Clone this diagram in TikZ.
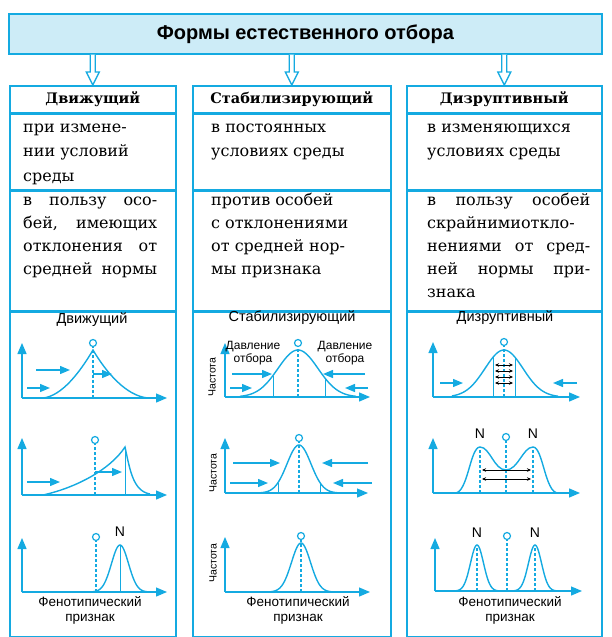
\documentclass[tikz,border=0pt]{standalone}
\usepackage{fontspec}
\setmainfont{DejaVu Serif}
\setsansfont{Liberation Sans}
\usetikzlibrary{arrows.meta,positioning}
\definecolor{bio}{RGB}{20,170,225}
\definecolor{biofill}{RGB}{205,236,247}
\newcommand{\spread}[2]{\makebox[#1][s]{#2}}

\begin{document}
\begin{tikzpicture}[
        x=1pt, y=-1pt,
        box/.style={draw=bio, line width=1.6pt, anchor=north west, inner sep=0pt},
        hdr/.style={box, minimum height=27pt, font=\fontsize{14.5}{17}\selectfont\bfseries},
        txt/.style={anchor=base west, align=left, inner sep=0pt},
        hollow/.style={draw=bio, line width=1.3pt, fill=white, line join=miter},
        ax/.style={draw=bio, line width=1.3pt, -{Triangle[length=11pt,width=9pt]}},
        push/.style={draw=bio, line width=1.3pt, -{Triangle[length=10pt,width=8pt]}},
        bell/.style={draw=bio, line width=1.4pt},
        cut/.style={draw=bio, line width=1pt},
        meanline/.style={draw=bio, line width=1.2pt, dash pattern=on 3pt off 2pt},
        mean/.style={circle, draw=bio, line width=1.2pt, minimum size=7pt, inner sep=0pt},
        gtitle/.style={font=\sffamily\fontsize{14.5}{17}\selectfont, inner sep=0pt},
        lbl/.style={font=\sffamily\fontsize{12}{13.5}\selectfont, align=center, inner sep=0pt},
        freq/.style={font=\sffamily\fontsize{10.5}{12}\selectfont, rotate=90, inner sep=0pt},
        nlbl/.style={font=\sffamily\fontsize{14}{16}\selectfont, inner sep=0pt},
        pheno/.style={font=\sffamily\fontsize{13.5}{15}\selectfont, align=center, inner sep=0pt, anchor=north},
        away/.style={black, line width=0.6pt, {Stealth[length=4pt,width=3.5pt]}-{Stealth[length=4pt,width=3.5pt]}}
    ]
        \useasboundingbox (0,0) rectangle (611,637);

        % Title and columns
        \node[box, fill=biofill, minimum width=593pt, minimum height=40pt,
              font=\sffamily\bfseries\fontsize{20}{23}\selectfont] (title) at (8,13) {Формы естественного отбора};
        \node[hdr, minimum width=166pt] (hdr1) at (9,85) {Движущий};
        \node[hdr, minimum width=198pt] (hdr2) at (192,85) {Стабилизирующий};
        \node[hdr, minimum width=195pt] (hdr3) at (406,85) {Дизруптивный};
        \foreach \c/\w in {1/166, 2/198, 3/195} {
            \coordinate (top\c) at (title.south -| hdr\c.north);
            \draw[hollow] ([xshift=-2.5pt]top\c) -- ([xshift=-2.5pt,yshift=13pt]hdr\c.north)
                -- ([xshift=-6.5pt,yshift=13pt]hdr\c.north) -- (hdr\c.north)
                -- ([xshift=6.5pt,yshift=13pt]hdr\c.north) -- ([xshift=2.5pt,yshift=13pt]hdr\c.north)
                -- ([xshift=2.5pt]top\c);
            \node[box, minimum width=\w pt, minimum height=75pt] (cond\c) at (hdr\c.south west) {};
            \node[box, minimum width=\w pt, minimum height=120pt] (fav\c) at (cond\c.south west) {};
            \node[box, minimum width=\w pt, minimum height=324pt] (pan\c) at (fav\c.south west) {};
        }

        % Texts (placed at the baseline of their last line)
        \begin{scope}[font=\fontsize{16}{24.5}\selectfont]
            \node[txt] (cond1t) at (23,181) {при измене-\\нии условий\\среды};
            \node[txt] (cond2t) at (211,156.5) {в постоянных\\условиях среды};
            \node[txt] (cond3t) at (427,156.5) {в изменяющихся\\условиях среды};
        \end{scope}
        \begin{scope}[font=\fontsize{16}{23}\selectfont]
            \node[txt] (fav1t) at (23,274) {\spread{134pt}{в пользу осо-}\\\spread{134pt}{бей, имеющих}\\
                \spread{134pt}{отклонения от}\\\spread{134pt}{средней нормы}};
            \node[txt] (fav2t) at (211,274) {против особей\\с отклонениями\\от средней нор-\\мы признака};
            \node[txt] (fav3t) at (427,297) {\spread{163pt}{в пользу особей}\\скрайнимиоткло-\\
                \spread{163pt}{нениями от сред-}\\\spread{163pt}{ней нормы при-}\\знака};
        \end{scope}

        % Graph titles
        \node[gtitle] (g1) at (92,320) {Движущий};
        \node[gtitle] (g2) at (292,318) {Стабилизирующий};
        \node[gtitle] (g3) at (505,318) {Дизруптивный};

        % Moving selection
        \draw[ax] (22,398) -- (22,343);
        \draw[ax] (22,398) -- (167,398);
        \draw[bell] (43,398) .. controls (62,396) and (80,372) .. (93,350) .. controls (106,372) and (126,396) .. (148,398);
        \node[mean] (m11) at (93,343) {};
        \draw[meanline] (93,398) -- (m11.south);
        \draw[push] (36,370) -- (70,370);
        \draw[push] (27,388) -- (50,388);
        \draw[push] (93,374) -- (112,374);

        \draw[ax] (22,495) -- (22,438);
        \draw[ax] (22,495) -- (167,495);
        \draw[bell] (43,495) .. controls (75,488) and (110,470) .. (125,447) .. controls (130,470) and (133,491) .. (150,494);
        \draw[cut] (125,447) -- (125,495);
        \node[mean] (m12) at (95,440) {};
        \draw[meanline] (95,495) -- (m12.south);
        \draw[push] (27,482) -- (60,482);
        \draw[push] (95,472) -- (122,472);

        \draw[ax] (22,592) -- (22,538);
        \draw[ax] (22,592) -- (167,592);
        \draw[bell] plot[domain=93:148, samples=80] (\x, {592-47*exp(-(\x-120)*(\x-120)/144)});
        \draw[cut] (120,545) -- (120,592);
        \node[mean] (m13) at (96,537) {};
        \draw[meanline] (96,592) -- (m13.south);
        \node[nlbl] (n13) at (120,532) {N};
        \node[pheno] (ph1) at (90,596) {Фенотипический\\признак};

        % Stabilizing selection
        \draw[ax] (225,397) -- (225,343);
        \draw[ax] (225,397) -- (370,397);
        \draw[bell] plot[domain=240:356, samples=80] (\x, {397-47*exp(-(\x-298)*(\x-298)/800)});
        \draw[cut] (273,397) -- (273,375.5);
        \draw[cut] (325,397) -- (325,378);
        \node[mean] (m21) at (298,343) {};
        \draw[meanline] (298,397) -- (m21.south);
        \draw[push] (232,374) -- (272,374);
        \draw[push] (230,388) -- (252,388);
        \draw[push] (365,374) -- (323,374);
        \draw[push] (368,388) -- (345,388);
        \node[lbl] (p1) at (253,353) {Давление\\отбора};
        \node[lbl] (p2) at (345,353) {Давление\\отбора};
        \node[freq] (f1) at (212,377) {Частота};

        \draw[ax] (225,493) -- (225,438);
        \draw[ax] (225,493) -- (368,493);
        \draw[bell] plot[domain=258:340, samples=80] (\x, {493-48*exp(-(\x-299)*(\x-299)/288)});
        \draw[cut] (278,493) -- (278,482.6);
        \draw[cut] (320,493) -- (320,482.6);
        \node[mean] (m22) at (299,438) {};
        \draw[meanline] (299,493) -- (m22.south);
        \draw[push] (233,463) -- (280,463);
        \draw[push] (230,483) -- (268,483);
        \draw[push] (368,463) -- (322,463);
        \draw[push] (372,483) -- (333,483);
        \node[freq] (f2) at (213,473) {Частота};

        \draw[ax] (225,592) -- (225,537);
        \draw[ax] (225,592) -- (370,592);
        \draw[bell] plot[domain=270:332, samples=80] (\x, {592-49*exp(-(\x-301)*(\x-301)/180)});
        \node[mean] (m23) at (301,536) {};
        \draw[meanline] (301,592) -- (m23.south);
        \node[freq] (f3) at (213,563) {Частота};
        \node[pheno] (ph2) at (298,596) {Фенотипический\\признак};

        % Disruptive selection
        \draw[ax] (433,397) -- (433,342);
        \draw[ax] (433,397) -- (580,397);
        \draw[bell] plot[domain=452:558, samples=80] (\x, {397-47*exp(-(\x-504)*(\x-504)/722)});
        \draw[cut] (493,397) -- (493,357);
        \draw[cut] (515,397) -- (515,357);
        \node[mean] (m31) at (504,342) {};
        \draw[meanline] (504,397) -- (m31.south);
        \foreach \y in {365,371,377,383}
            \draw[away] (495,\y) -- (513,\y);
        \draw[push] (440,383) -- (463,383);
        \draw[push] (577,383) -- (553,383);

        \draw[ax] (433,493) -- (433,438);
        \draw[ax] (433,493) -- (580,493);
        \draw[bell] (455,493) .. controls (468,493) and (470,447) .. (480,447) .. controls (490,447) and (494,470) .. (506,470)
                    .. controls (518,470) and (523,447) .. (533,447) .. controls (543,447) and (545,493) .. (558,493);
        \draw[meanline] (480,493) -- (480,447);
        \draw[meanline] (533,493) -- (533,447);
        \node[mean] (m32) at (506,437) {};
        \draw[meanline] (506,493) -- (m32.south);
        \draw[away] (482,470) -- (531,470);
        \draw[away] (482,479) -- (531,479);
        \node[nlbl] (n32a) at (480,434) {N};
        \node[nlbl] (n32b) at (533,434) {N};

        \draw[ax] (435,591) -- (435,538);
        \draw[ax] (435,591) -- (582,591);
        \draw[bell] plot[domain=455:499, samples=60] (\x, {591-46*exp(-(\x-477)*(\x-477)/85)});
        \draw[bell] plot[domain=513:557, samples=60] (\x, {591-46*exp(-(\x-535)*(\x-535)/85)});
        \draw[meanline] (477,591) -- (477,545);
        \draw[meanline] (535,591) -- (535,545);
        \node[mean] (m33) at (507,536) {};
        \draw[meanline] (507,591) -- (m33.south);
        \node[nlbl] (n33a) at (477,533) {N};
        \node[nlbl] (n33b) at (535,533) {N};
        \node[pheno] (ph3) at (510,596) {Фенотипический\\признак};
    \end{tikzpicture}
\end{document}
